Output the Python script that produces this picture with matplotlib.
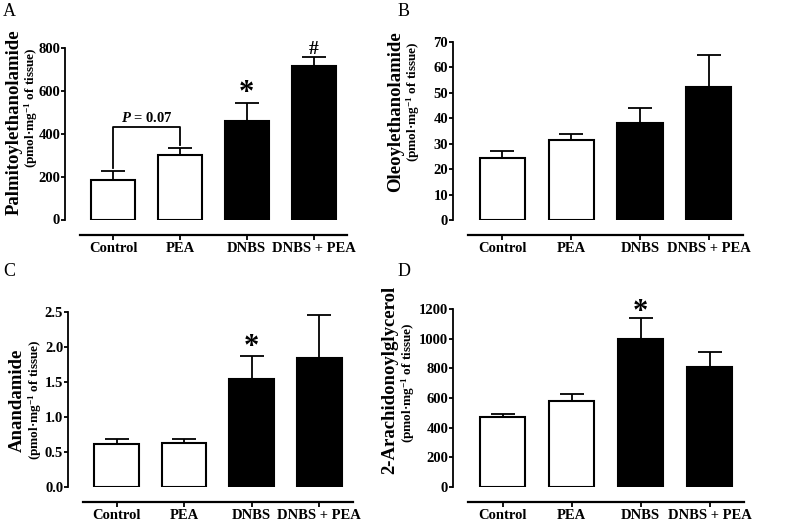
"""Níveis de endocanabinoides por grupo (painéis A-D, estilo Prism)."""

import matplotlib
matplotlib.use("Agg")
import matplotlib.pyplot as plt

plt.rcParams["font.family"] = ["Liberation Serif", "DejaVu Serif"]
plt.rcParams["font.weight"] = "bold"
plt.rcParams["mathtext.fontset"] = "custom"
plt.rcParams["mathtext.rm"] = "Liberation Serif:bold"
plt.rcParams["mathtext.it"] = "Liberation Serif:italic:bold"
plt.rcParams["mathtext.bf"] = "Liberation Serif:bold"

# dados
grupos = ["Control", "PEA", "DNBS", "DNBS + PEA"]
preenchimento = ["white", "white", "black", "black"]

pea_media = [185, 300, 460, 717]
pea_erro = [42, 36, 85, 43]

oea_media = [24.5, 31.5, 38, 52.5]
oea_erro = [2.5, 2.2, 6.2, 12.3]

aea_media = [0.62, 0.63, 1.54, 1.84]
aea_erro = [0.07, 0.06, 0.33, 0.62]

ag_media = [470, 580, 995, 810]
ag_erro = [20, 50, 145, 100]

W, H = 788, 521
fig = plt.figure(figsize=(W / 100, H / 100), dpi=100)


def eixo(esq, dir_, topo, base):
    """Cria eixo a partir de coordenadas em pixels (topo = valor máximo, base = zero)."""
    return fig.add_axes([esq / W, 1 - base / H, (dir_ - esq) / W, (base - topo) / H])


def painel(ax, medias, erros, ymax, passo, fmt=None):
    x = range(len(grupos))
    ax.bar(x, medias, width=0.66, color=preenchimento, edgecolor="black",
           linewidth=1.5, zorder=3)
    ax.errorbar(x, medias, yerr=[[0] * len(erros), erros], fmt="none",
                ecolor="black", elinewidth=1.3, capsize=8.5, capthick=1.3, zorder=2)
    ax.set_xlim(-0.72, 3.5)
    ax.set_ylim(0, ymax)
    ticks = [i * passo for i in range(int(round(ymax / passo)) + 1)]
    ax.set_yticks(ticks)
    if fmt:
        ax.set_yticklabels([fmt % t for t in ticks])
    ax.set_xticks(list(x))
    ax.set_xticklabels(grupos)
    ax.spines[["top", "right"]].set_visible(False)
    ax.spines["left"].set_linewidth(1.3)
    ax.spines["bottom"].set_linewidth(1.6)
    ax.spines["bottom"].set_position(("outward", 11))
    ax.spines["bottom"].set_bounds(-0.5, 3.5)
    ax.tick_params(axis="y", direction="out", length=3, width=1.3, pad=0.5,
                   labelsize=10.5)
    ax.tick_params(axis="x", direction="out", length=3.5, width=1.3, pad=1.5,
                   labelsize=10.5)
    for lbl in ax.get_xticklabels() + ax.get_yticklabels():
        lbl.set_fontweight("bold")


def rotulo_y(x_main, y_main, x_sub, y_sub, texto):
    fig.text(x_main / W, 1 - y_main / H, texto, rotation=90, ha="center",
             va="center", fontsize=13.5, fontweight="bold")
    fig.text(x_sub / W, 1 - y_sub / H, "(pmol·mg$^{-1}$ of tissue)", rotation=90,
             ha="center", va="center", fontsize=9.5, fontweight="bold")


# A
axA = eixo(65, 347, 48.3, 219.5)
painel(axA, pea_media, pea_erro, 800, 200)
axA.plot([0, 0, 1, 1], [241, 432, 432, 348], color="black", lw=1.3, zorder=4)
axA.text(0.5, 440, r"$\mathit{P}$ = 0.07", ha="center", va="bottom",
         fontsize=10.5, fontweight="bold")
axA.text(2, 555, "*", ha="center", va="baseline", fontsize=22, fontweight="bold")
axA.text(3, 775, "#", ha="center", va="baseline", fontsize=14, fontweight="bold")
rotulo_y(14, 122, 31, 108, "Palmitoylethanolamide")

# B
axB = eixo(453, 743, 42, 220)
painel(axB, oea_media, oea_erro, 70, 10)
rotulo_y(396, 112, 413, 102, "Oleoylethanolamide")

# C
axC = eixo(68, 353, 312, 487)
painel(axC, aea_media, aea_erro, 2.5, 0.5, fmt="%.1f")
axC.text(2, 1.88, "*", ha="center", va="baseline", fontsize=22, fontweight="bold")
rotulo_y(17, 400, 35, 400, "Anandamide")

# D
axD = eixo(453, 744, 309, 487)
painel(axD, ag_media, ag_erro, 1200, 200)
axD.text(2, 1125, "*", ha="center", va="baseline", fontsize=22, fontweight="bold")
rotulo_y(390, 380, 408, 383, "2-Arachidonoylglycerol")

# letras dos painéis
for letra, (px, py) in zip("ABCD", [(3, 11), (398, 11), (3, 272), (398, 272)]):
    fig.text(px / W, 1 - py / H, letra, ha="left", va="center", fontsize=13,
             fontweight="normal")

fig.savefig("out.png", dpi=100, facecolor="white")
